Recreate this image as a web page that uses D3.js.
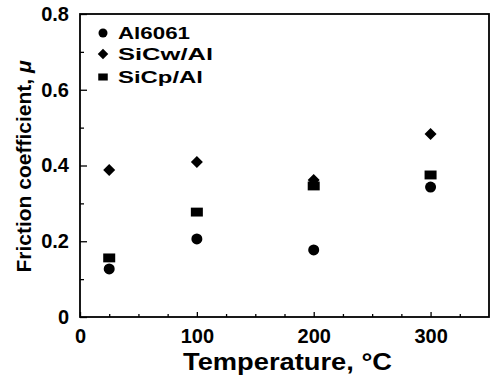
<!DOCTYPE html>
<html>
<head>
<meta charset="utf-8">
<script src="https://cdn.jsdelivr.net/npm/d3@7"></script>
<style>
  html, body { margin: 0; padding: 0; background: #fff; }
  svg { display: block; }
  text { font-family: "Liberation Sans", Arial, Helvetica, sans-serif; font-weight: bold; fill: #000; }
</style>
</head>
<body>
<script>
// ---- data ----
const temperatures = [25, 100, 200, 300];
const al6061 = [0.127, 0.206, 0.177, 0.343];
const sicwAl = [0.388, 0.409, 0.362, 0.483];
const sicpAl = [0.156, 0.277, 0.346, 0.375];
const seriesNames = ["Al6061", "SiCw/Al", "SiCp/Al"];
const xTickValues = [0, 100, 200, 300];
const xTickLabels = ["0", "100", "200", "300"];
const xMinorTicks = [25, 50, 75, 125, 150, 175, 225, 250, 275, 325];
const yTickValues = [0, 0.2, 0.4, 0.6, 0.8];
const yTickLabels = ["0", "0.2", "0.4", "0.6", "0.8"];
const yMinorTicks = [0.1, 0.3, 0.5, 0.7];
const xTitle = "Temperature, °C";
const yTitle = "Friction coefficient, ";
const yTitleSymbol = "μ";

// ---- layout ----
const W = 490, H = 381;
const svg = d3.select("body").append("svg").attr("width", W).attr("height", H);
const x = d3.scaleLinear().domain([0, 350]).range([80, 489]);
const y = d3.scaleLinear().domain([0, 0.8]).range([317, 14]);

// frame
svg.append("rect")
  .attr("x", x(0)).attr("y", y(0.8))
  .attr("width", x(350) - x(0)).attr("height", y(0) - y(0.8))
  .attr("fill", "none").attr("stroke", "#000").attr("stroke-width", 1.8);

function styleAxis(g) {
  g.select(".domain").remove();
  g.selectAll("line").attr("stroke", "#000").attr("stroke-width", 1.3);
  g.selectAll("text").attr("font-size", 20).attr("font-family", "'Liberation Sans', Arial, sans-serif").attr("font-weight", "bold").attr("fill", "#000");
}

// y axis
svg.append("g").attr("transform", `translate(${x(0)},0)`)
  .call(d3.axisLeft(y).tickValues(yTickValues).tickSizeInner(-7).tickSizeOuter(0).tickPadding(11)
    .tickFormat((d, i) => yTickLabels[i]))
  .call(styleAxis);
svg.append("g").attr("transform", `translate(${x(0)},0)`)
  .call(d3.axisLeft(y).tickValues(yMinorTicks).tickSizeInner(-4).tickSizeOuter(0).tickFormat(""))
  .call(styleAxis);

// x axis
svg.append("g").attr("transform", `translate(0,${y(0)})`)
  .call(d3.axisBottom(x).tickValues(xTickValues).tickSizeInner(-5).tickSizeOuter(0).tickPadding(12)
    .tickFormat((d, i) => xTickLabels[i]))
  .call(styleAxis);
svg.append("g").attr("transform", `translate(0,${y(0)})`)
  .call(d3.axisBottom(x).tickValues(xMinorTicks).tickSizeInner(-3).tickSizeOuter(0).tickFormat(""))
  .call(styleAxis);

// titles
svg.append("text")
  .attr("x", (x(0) + x(350)) / 2 + 3).attr("y", 370)
  .attr("text-anchor", "middle").attr("font-size", 23)
  .attr("textLength", 209).attr("lengthAdjust", "spacingAndGlyphs")
  .text(xTitle);

const yt = svg.append("text")
  .attr("transform", `translate(31,${(y(0) + y(0.8)) / 2 + 1}) rotate(-90)`)
  .attr("text-anchor", "middle").attr("font-size", 21);
yt.append("tspan").text(yTitle);
yt.append("tspan").attr("font-style", "italic").text(yTitleSymbol);

// markers
const shapes = {
  circle: (g, s) => g.append("circle").attr("r", s / 2),
  diamond: (g, s) => g.append("path").attr("d", d3.symbol().type(d3.symbolSquare).size(s * s / 2)()).attr("transform", "rotate(45)"),
  square: (g, s) => g.append("rect").attr("x", -s / 2).attr("y", -s * 0.37).attr("width", s).attr("height", s * 0.74)
};
const series = [
  { name: seriesNames[0], values: al6061, shape: "circle", size: 11, lsize: 9 },
  { name: seriesNames[1], values: sicwAl, shape: "diamond", size: 12, lsize: 10.5 },
  { name: seriesNames[2], values: sicpAl, shape: "square", size: 12, lsize: 9.5 }
];

// draw order: diamonds, squares, circles
[series[1], series[2], series[0]].forEach(s => {
  temperatures.forEach((t, i) => {
    const g = svg.append("g").attr("transform", `translate(${x(t)},${y(s.values[i])})`).attr("fill", "#000");
    shapes[s.shape](g, s.size);
  });
});

// legend
const legendY = [33, 54, 77];
const legendW = [72, 95, 85];
series.forEach((s, i) => {
  const g = svg.append("g").attr("transform", `translate(103,${legendY[i]})`).attr("fill", "#000");
  shapes[s.shape](g, s.lsize);
  svg.append("text").attr("x", 118).attr("y", legendY[i] + 5.5)
    .attr("font-size", 17)
    .attr("textLength", legendW[i]).attr("lengthAdjust", "spacingAndGlyphs")
    .text(s.name);
});
</script>
</body>
</html>
